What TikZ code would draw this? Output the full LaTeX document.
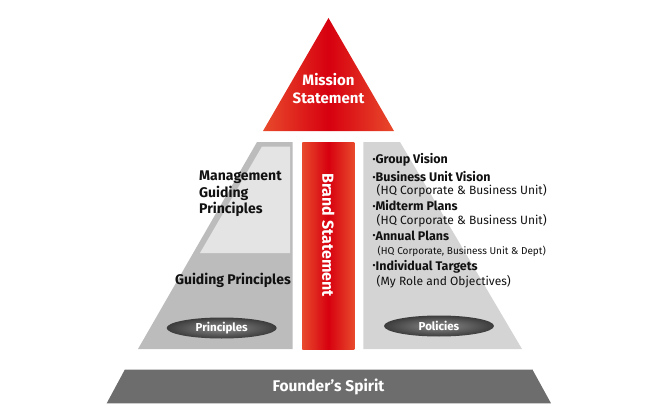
\documentclass[tikz,border=0pt]{standalone}
\usepackage{fontspec}
\setmainfont{Fira Sans}
\usetikzlibrary{positioning, shapes.geometric}

\definecolor{brandred}{HTML}{D7000F}
\definecolor{redlight}{HTML}{E84A2C}
\definecolor{leftgray}{HTML}{BCBCBC}
\definecolor{paleground}{HTML}{E4E4E4}
\definecolor{rightgray}{HTML}{D4D4D4}
\definecolor{foundergray}{HTML}{6E6D6E}
\definecolor{ovaldark}{HTML}{3C3C3C}
\definecolor{ovalmid}{HTML}{8A8A8A}
\definecolor{textdark}{HTML}{111111}

\newcommand{\dotmark}{\raisebox{0.2ex}{\fontsize{8.5}{8}\selectfont\textbullet}}

\begin{document}
\begin{tikzpicture}[x=1pt, y=-1pt,
	redfill/.style={left color=redlight, right color=redlight, middle color=brandred},
	headtext/.style={font=\bfseries\fontsize{15}{18}\selectfont, text=white, align=center, inner sep=0pt},
	sidetext/.style={font=\bfseries\fontsize{14}{16.5}\selectfont, text=textdark, align=left, inner sep=0pt},
	bulletline/.style={font=\bfseries\fontsize{12.5}{14}\selectfont, text=textdark, anchor=west, inner sep=0pt},
	subline/.style={font=\fontsize{12}{14}\selectfont, text=textdark, anchor=west, inner sep=0pt},
	ovalbtn/.style={ellipse, minimum width=110pt, minimum height=21pt, inner sep=0pt,
		inner color=ovalmid, outer color=ovaldark, text=white,
		font=\bfseries\fontsize{11.5}{13}\selectfont}]

	\useasboundingbox (0,0) rectangle (659,420);

	% mission
	\shade[redfill] (328.5,18) -- (394,131) -- (263,131) -- cycle;
	\node (mission) [headtext] at (328.5,89) {Mission\\Statement};

	% left side
	\fill[leftgray] (257,142) -- (292.5,142) -- (292.5,349) -- (138,349) -- cycle;
	\fill[paleground] (262,146.5) -- (290,146.5) -- (290,253) -- (200,253) -- cycle;
	\node (mgmt) [sidetext, anchor=west] at (199,194) {Management\\Guiding\\Principles};
	\node (guiding) [sidetext, anchor=east] at (291,280) {Guiding Principles};
	\node (principles) [ovalbtn] at (221.7,328) {Principles};

	% brand
	\shade[redfill] (302.3,142.3) rectangle (354.3,349);
	\node (brand) [headtext, font=\bfseries\fontsize{16}{18}\selectfont, rotate=-90] at (328.3,235) {Brand Statement};

	% right side
	\fill[rightgray] (363.3,142) -- (400,142) -- (522,349) -- (363.3,349) -- cycle;
	\node (group) [bulletline] at (372.5,160) {\dotmark Group Vision};
	\node (unit) [bulletline] at (372.5,176.5) {\dotmark Business Unit Vision};
	\node (unitsub) [subline] at (376.5,190.5) {(HQ Corporate \& Business Unit)};
	\node (midterm) [bulletline] at (372.5,205.5) {\dotmark Midterm Plans};
	\node (midsub) [subline] at (376.5,220.5) {(HQ Corporate \& Business Unit)};
	\node (annual) [bulletline] at (372.5,235.5) {\dotmark Annual Plans};
	\node (annualsub) [subline, font=\fontsize{10}{12}\selectfont] at (377.5,251) {(HQ Corporate, Business Unit \& Dept)};
	\node (targets) [bulletline] at (372.5,266.5) {\dotmark Individual Targets};
	\node (targetsub) [subline] at (376.5,281.5) {(My Role and Objectives)};
	\node (policies) [ovalbtn] at (439,326) {Policies};

	% founder
	\fill[foundergray] (125,369.3) -- (532.3,369.3) -- (551,403.3) -- (106.7,403.3) -- cycle;
	\draw[gray!40, line width=0.8pt] (125,369.3) -- (532.3,369.3);
	\node (founder) [headtext, font=\bfseries\fontsize{15.5}{18}\selectfont] at (328.5,387) {Founder’s Spirit};

\end{tikzpicture}
\end{document}
